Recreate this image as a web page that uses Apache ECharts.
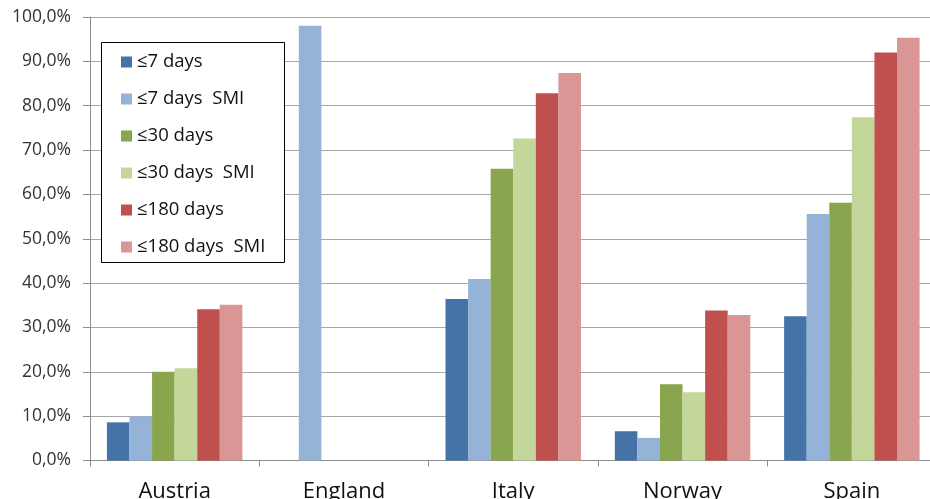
<!DOCTYPE html>
<html>
<head>
<meta charset="utf-8">
<script src="https://cdn.jsdelivr.net/npm/echarts@6/dist/echarts.min.js"></script>
<style>html,body{margin:0;padding:0;background:#fff}#c{width:930px;height:499px}</style>
</head>
<body>
<div id="c"></div>
<script>
const categories = ['Austria', 'England', 'Italy', 'Norway', 'Spain'];
const seriesNames = ['≤7 days', '≤7 days  SMI', '≤30 days', '≤30 days  SMI', '≤180 days', '≤180 days  SMI'];
const d7 = [8.6, null, 36.4, 6.6, 32.5];
const d7smi = [9.9, 98.0, 40.9, 5.1, 55.6];
const d30 = [20.0, null, 65.8, 17.2, 58.1];
const d30smi = [20.8, null, 72.6, 15.4, 77.4];
const d180 = [34.1, null, 82.8, 33.8, 92.0];
const d180smi = [35.1, null, 87.4, 32.8, 95.3];
const colors = ['#4572A7', '#95B3D7', '#89A54E', '#C4D79B', '#C0504D', '#DA9694'];
const allData = [d7, d7smi, d30, d30smi, d180, d180smi];

const FONT = "'Open Sans', 'DejaVu Sans', sans-serif";
const chart = echarts.init(document.getElementById('c'), null, {renderer: 'canvas'});
chart.setOption({
  animation: false,
  color: colors,
  grid: {left: 90, top: 17, right: -6.5, bottom: 38.5, containLabel: false, outerBoundsMode: 'none'},
  graphic: [{
    type: 'rect', z: 3,
    shape: {x: 101.5, y: 42.5, width: 183, height: 220},
    style: {fill: '#fff', stroke: '#000', lineWidth: 1}
  }],
  legend: {
    z: 10,
    orient: 'vertical', left: 116, top: 47,
    itemWidth: 11, itemHeight: 11, itemGap: 17,
    icon: 'rect',
    textStyle: {fontFamily: FONT, fontSize: 18.5, color: '#111', lineHeight: 20},
    data: seriesNames
  },
  xAxis: {
    type: 'category', data: categories,
    axisLine: {lineStyle: {color: '#8c8c8c', width: 1}},
    axisTick: {show: true, length: 6, lineStyle: {color: '#8c8c8c'}},
    axisLabel: {fontFamily: FONT, fontSize: 22, color: '#111', margin: 20, lineHeight: 22}
  },
  yAxis: {
    type: 'value', min: 0, max: 100, interval: 10,
    axisLine: {show: true, lineStyle: {color: '#8c8c8c', width: 1}},
    axisTick: {show: true, length: 7, lineStyle: {color: '#8c8c8c'}},
    splitLine: {lineStyle: {color: '#a6a6a6', width: 1}},
    axisLabel: {
      fontFamily: FONT, fontSize: 17.5, color: '#333', margin: 19,
      formatter: v => v.toFixed(1).replace('.', ',') + '%'
    }
  },
  series: allData.map((d, i) => ({
    name: seriesNames[i], type: 'bar', data: d,
    barGap: '0%', barCategoryGap: '20%',
    itemStyle: {color: colors[i]}
  }))
});
</script>
</body>
</html>
